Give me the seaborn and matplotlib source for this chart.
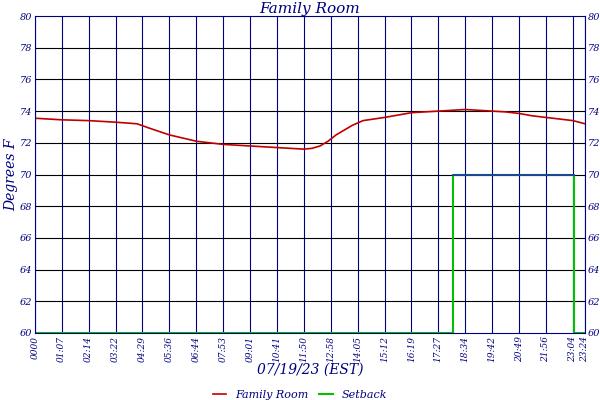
import matplotlib
matplotlib.use("Agg")
import matplotlib.pyplot as plt
import seaborn as sns
import pandas as pd
import numpy as np

tick_labels = ["0000","01:07","02:14","03:22","04:29","05:36","06:44","07:53","09:01","10:41",
               "11:50","12:58","14:05","15:12","16:19","17:27","18:34","19:42","20:49","21:56","23:04","23:24"]
tick_pos = list(range(21)) + [20.45]

room_x = [0, 1, 2, 3, 3.8, 4.3, 5, 5.5, 6, 6.5, 7, 7.5, 8, 8.5, 9, 9.5, 10, 10.3, 10.6, 10.9, 11.2, 11.5, 11.8, 12.2, 12.6, 13, 13.5, 14, 14.5, 15, 15.5, 16, 16.5, 17, 17.5, 18, 18.5, 19, 19.5, 20, 20.45]
room_y = [73.55, 73.45, 73.4, 73.3, 73.2, 72.9, 72.5, 72.3, 72.1, 72.0, 71.9, 71.85, 71.8, 71.75, 71.7, 71.65, 71.6, 71.65, 71.8, 72.1, 72.5, 72.8, 73.1, 73.4, 73.5, 73.6, 73.75, 73.9, 73.95, 74.0, 74.05, 74.1, 74.05, 74.0, 73.95, 73.85, 73.7, 73.6, 73.5, 73.4, 73.2]

setback_x = [0, 15.55, 15.55, 20.05, 20.05, 20.45]
setback_y = [60, 60, 70, 70, 60, 60]

navy = "#000080"
plt.rcParams["font.family"] = "DejaVu Serif"
plt.rcParams["font.style"] = "italic"

fig = plt.figure(figsize=(6, 4), dpi=100)
ax = fig.add_axes([0.058, 0.1675, 0.917, 0.7925])

df_room = pd.DataFrame({"x": room_x, "y": room_y})
df_sb = pd.DataFrame({"x": setback_x, "y": setback_y})

for v in tick_pos:
    ax.axvline(v, color=navy, lw=0.8, zorder=0)
for h in range(62, 80, 2):
    ax.axhline(h, color="black", lw=0.8, zorder=0)

sns.lineplot(data=df_sb, x="x", y="y", ax=ax, color="#00c000", lw=1.5, label="Setback", estimator=None, sort=False)
ax.plot(df_sb["x"][2:4], df_sb["y"][2:4], color="#2030b0", lw=1.2)
sns.lineplot(data=df_room, x="x", y="y", ax=ax, color="#c00000", lw=1.2, label="Family Room", estimator=None)

ax.set_xlim(0, 20.45)
ax.set_ylim(60, 80)
ax.set_yticks(range(60, 81, 2))
ax.set_xticks(tick_pos)
ax.set_xticklabels(tick_labels, rotation=90, fontsize=6.5, color=navy)
ax.tick_params(axis="y", labelsize=7, labelcolor=navy, right=True, labelright=True, length=0, pad=2)
ax.tick_params(axis="x", length=0, pad=2)
ax.set_xlabel("07/19/23 (EST)", color=navy, fontsize=10, labelpad=1)
ax.set_ylabel("Degrees F", color=navy, fontsize=10, labelpad=1)
ax.set_title("Family Room", color=navy, fontsize=11, pad=2)
for s in ax.spines.values():
    s.set_color(navy)

h, l = ax.get_legend_handles_labels()
leg = fig.legend([h[1], h[0]], [l[1], l[0]], loc="lower center", ncol=2, frameon=False,
                 fontsize=8, bbox_to_anchor=(0.5, -0.025), handlelength=1.2, columnspacing=1.0)
for t in leg.get_texts():
    t.set_color(navy)
ax.get_legend().remove()

fig.savefig("out.png", dpi=100)
